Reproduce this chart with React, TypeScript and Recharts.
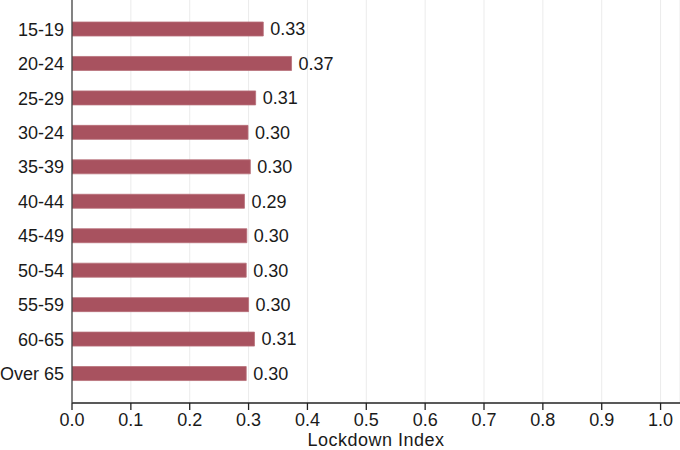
import React from "react";
import { BarChart, Bar, XAxis, YAxis, CartesianGrid, LabelList } from "recharts";

const categories = ["15-19", "20-24", "25-29", "30-24", "35-39", "40-44", "45-49", "50-54", "55-59", "60-65", "Over 65"];
const values = [0.325, 0.373, 0.312, 0.299, 0.303, 0.293, 0.297, 0.296, 0.3, 0.31, 0.296];
const xTicks = [0, 0.1, 0.2, 0.3, 0.4, 0.5, 0.6, 0.7, 0.8, 0.9, 1.0];
const xTitle = "Lockdown Index";

const data = categories.map((c, i) => ({ name: c, value: values[i] }));

const font = "'Liberation Sans', Arial, Helvetica, sans-serif";

const AxisTitle = (props: any) => {
  const vb = props.viewBox || {};
  return (
    <text
      x={vb.x + vb.width / 2}
      y={vb.y + vb.height - 4}
      textAnchor="middle"
      fill="#1a1a1a"
      fontSize={18}
      letterSpacing={0.5}
      fontFamily={font}
    >
      {xTitle}
    </text>
  );
};

export default function App() {
  return (
    <div style={{ position: "absolute", left: 0, top: 0, width: 680, height: 450, background: "#fff" }}>
      <BarChart
        width={680}
        height={450}
        data={data}
        layout="vertical"
        margin={{ top: 0, right: 0, left: 0, bottom: 0 }}
        barCategoryGap={0}
      >
        <CartesianGrid vertical={true} horizontal={false} stroke="#ebebeb" strokeWidth={1} />
        <XAxis
          type="number"
          domain={[0, 1.033]}
          ticks={xTicks}
          allowDataOverflow
          tickFormatter={(v: number) => v.toFixed(1)}
          height={47}
          tickSize={7}
          tickMargin={3}
          axisLine={{ stroke: "#222", strokeWidth: 1.3 }}
          tickLine={{ stroke: "#222", strokeWidth: 1.3 }}
          tick={{ fill: "#1a1a1a", fontSize: 18, fontFamily: font }}
          label={<AxisTitle />}
        />
        <YAxis
          type="category"
          dataKey="name"
          width={72}
          padding={{ top: 12, bottom: 12 }}
          tickLine={false}
          axisLine={{ stroke: "#444", strokeWidth: 1.3 }}
          tick={{ fill: "#1a1a1a", fontSize: 18, fontFamily: font }}
          interval={0}
        />
        <Bar dataKey="value" fill="#a8525f" stroke="#b8707a" strokeWidth={0.8} barSize={14} isAnimationActive={false}>
          <LabelList
            dataKey="value"
            position="right"
            offset={7}
            formatter={(v: number) => v.toFixed(2)}
            style={{ fill: "#1a1a1a", fontSize: 18, fontFamily: font }}
          />
        </Bar>
      </BarChart>
    </div>
  );
}
